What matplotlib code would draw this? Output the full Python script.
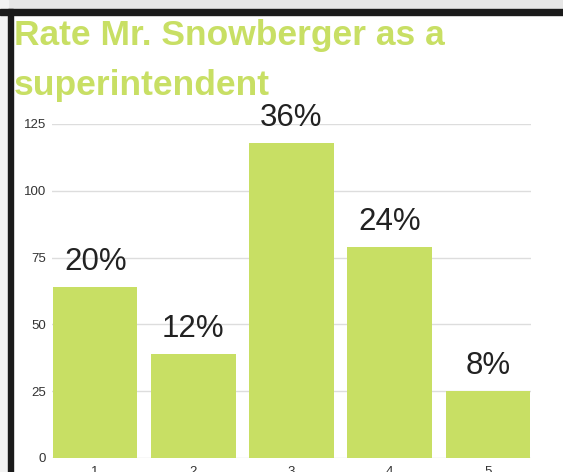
import matplotlib
matplotlib.use('Agg')
import matplotlib.pyplot as plt
from matplotlib.patches import Rectangle

# survey data
ratings = ['1', '2', '3', '4', '5']
counts = [64, 39, 118, 79, 25]
pct_labels = ['20%', '12%', '36%', '24%', '8%']
y_ticks = [0, 25, 50, 75, 100, 125]
title_lines = ['Rate Mr. Snowberger as a', 'superintendent']

GREEN = '#c8df64'
W, H = 563, 472

fig = plt.figure(figsize=(W / 100, H / 100), dpi=100)
fig.patch.set_facecolor('white')

# black frame at top and left, light gray strip outside it
fig.patches.append(Rectangle((0, 1 - 9 / H), 1, 9 / H, transform=fig.transFigure,
                             color='#e6e6e6', zorder=0))
fig.patches.append(Rectangle((0, 0), 8 / W, 1, transform=fig.transFigure,
                             color='#f2f2f2', zorder=0))
fig.patches.append(Rectangle((0, 1 - 15 / H), 1, 6 / H, transform=fig.transFigure,
                             color='#1a1a1a', zorder=1))
fig.patches.append(Rectangle((8 / W, 0), 5 / W, 1 - 9 / H, transform=fig.transFigure,
                             color='#1a1a1a', zorder=1))

ax = fig.add_axes([52 / W, 14 / H, 479 / W, 334 / H])
x = range(len(ratings))
bars = ax.bar(x, counts, width=0.86, color=GREEN, zorder=2)

for b, lab in zip(bars, pct_labels):
    ax.annotate(lab, (b.get_x() + b.get_width() / 2, b.get_height()),
                xytext=(0, 7), textcoords='offset points',
                ha='center', va='bottom', fontsize=22.5, color='#222222',
                family='Liberation Sans')

ax.set_xlim(-0.44, 4.44)
ax.set_ylim(0, 125)
ax.set_yticks(y_ticks)
ax.set_xticks(list(x))
ax.set_xticklabels(ratings)
ax.yaxis.grid(True, color='#dddddd', linewidth=1, zorder=0)
ax.set_axisbelow(True)
for s in ax.spines.values():
    s.set_visible(False)
ax.tick_params(length=0, labelsize=9.5, colors='#333333')
ax.tick_params(axis='y', pad=4.5)
ax.tick_params(axis='x', pad=6)
for t in ax.get_yticklabels() + ax.get_xticklabels():
    t.set_family('Liberation Sans')

for line, base in zip(title_lines, [45, 95]):
    fig.text(14 / W, 1 - base / H, line, ha='left', va='baseline',
             fontsize=25.5, fontweight='bold', color=GREEN,
             family='Liberation Sans')

fig.savefig('out.png', dpi=100)
